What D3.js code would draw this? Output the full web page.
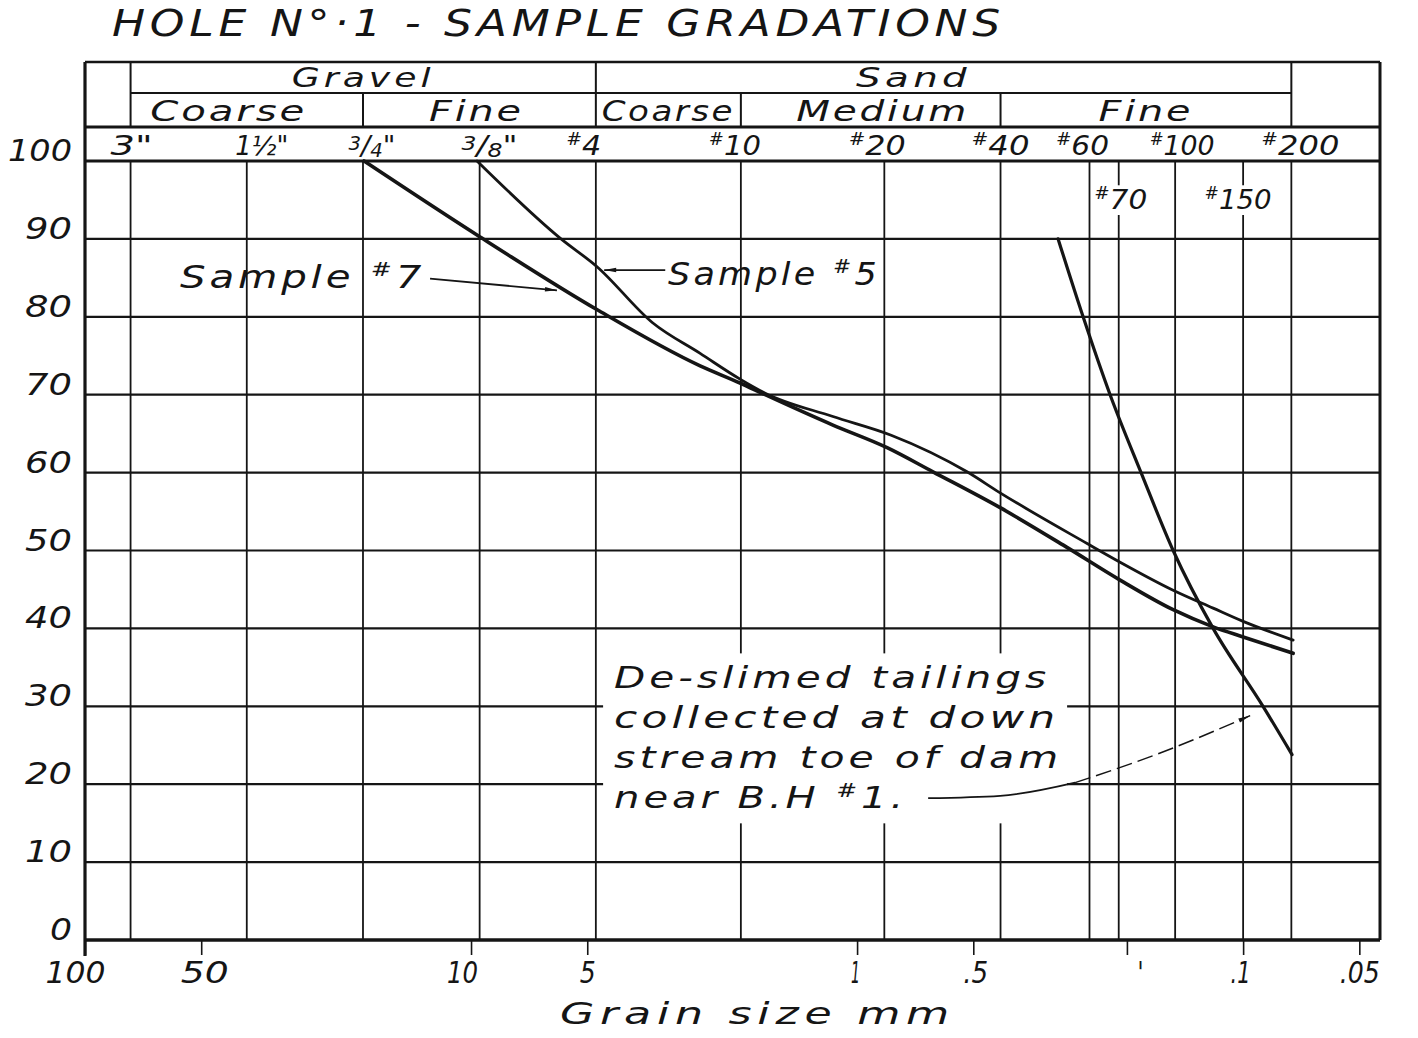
<!DOCTYPE html>
<html><head><meta charset="utf-8">
<script src="https://cdn.jsdelivr.net/npm/d3@7/dist/d3.min.js"></script>
<style>
html,body{margin:0;padding:0;background:#fff;}
svg{display:block;}
text{font-family:"DejaVu Sans",sans-serif;font-style:italic;fill:#151515;}
</style></head><body>
<svg id="chart" width="1418" height="1038"></svg>
<script>
// ---------------- data ----------------
const title = "HOLE N°·1 - SAMPLE GRADATIONS";
const xTitle = "Grain size mm";
const yTickValues = [0,10,20,30,40,50,60,70,80,90,100];
const xTickValues = [100,50,10,5,1,0.5,0.2,0.1,0.05];
const xTickLabels = ["100","50","10","5","1",".5","'",".1",".05"];

const sieveNames = ['3"','1½"','3/4"','3/8"','#4','#10','#20','#40','#60','#70','#100','#150','#200'];
const sieveSizes = [76.2,38.1,19.05,9.5,4.75,2.0,0.85,0.425,0.25,0.21,0.15,0.1,0.075];

const soilGroups = ["Gravel","Sand"];
const soilGroupBounds = [[76.2,4.75],[4.75,0.075]];
const soilClasses = ["Coarse","Fine","Coarse","Medium","Fine"];
const soilClassBounds = [[76.2,19.05],[19.05,4.75],[4.75,2.0],[2.0,0.425],[0.425,0.075]];

const sample5Size = [9.65,5.88,4.71,3.38,2.55,2.01,1.73,1.155,0.816,0.519,0.426,0.2536,0.2083,0.1518,0.1196,0.1,0.0742];
const sample5Pass = [100,90.1,86.4,79.2,75.3,72.0,70.2,67.2,64.8,60.1,57.4,50.9,48.5,44.9,42.6,40.9,38.5];

const sample7Size = [18.93,9.65,4.71,2.55,2.01,1.73,1.155,0.836,0.636,0.426,0.286,0.2083,0.1518,0.1196,0.1,0.0742];
const sample7Pass = [100,90.5,80.9,73.7,71.5,70.0,66.1,63.2,60.1,55.5,50.4,46.2,42.4,40.2,38.9,36.8];

const tailingsSize = [0.3015,0.2597,0.2211,0.1838,0.1518,0.1196,0.0888,0.0747];
const tailingsPass = [90,80,70,60,50,40,30,23.8];

const noteLines = ["De-slimed tailings","collected at down","stream toe of dam","near B.H #1."];

// ---------------- layout ----------------
const L = 85, R = 1380, T = 62, B = 940;
const ink = "#151515";
const svg = d3.select("#chart");
svg.append("rect").attr("width",1418).attr("height",1038).attr("fill","#fff");

const x = d3.scaleLog().domain([100, 0.0442]).range([L, R]);
const y = d3.scaleLinear().domain([0, 100]).range([B, 161]);
const rowY = [T, 93, 127, y(100)];

const defs = svg.append("defs");
defs.append("marker").attr("id","arr").attr("viewBox","0 0 12 6")
  .attr("refX",12).attr("refY",3).attr("markerWidth",14).attr("markerHeight",6)
  .attr("markerUnits","userSpaceOnUse").attr("orient","auto")
  .append("path").attr("d","M0,0.8 L12,3 L0,5.2 Z").attr("fill",ink);

function line(g, x1,y1,x2,y2,w){
  return g.append("line").attr("x1",x1).attr("y1",y1).attr("x2",x2).attr("y2",y2)
    .attr("stroke",ink).attr("stroke-width",w);
}
function fit(t, w){
  return t.attr("textLength", w).attr("lengthAdjust","spacingAndGlyphs");
}
function rich(t, str, size){
  const parts = str.split("#");
  if (parts[0]) t.append("tspan").text(parts[0]);
  for (let i=1;i<parts.length;i++){
    t.append("tspan").attr("font-size",size*0.62).attr("dy",-size*0.36).text("#");
    t.append("tspan").attr("dy",size*0.36).text(parts[i]);
  }
  return t;
}
function fracText(t, str, size){
  const m = str.match(/^(\d)\/(\d)(.*)$/);
  t.append("tspan").attr("font-size",size*0.72).attr("dy",-size*0.2).text(m[1]);
  t.append("tspan").attr("dy",size*0.2).text("/");
  t.append("tspan").attr("font-size",size*0.72).attr("dy",size*0.08).text(m[2]);
  t.append("tspan").attr("dy",-size*0.08).text(m[3]);
  return t;
}

// ---------------- grid ----------------
const grid = svg.append("g");
yTickValues.forEach(v=>{
  line(grid, L, y(v), R, y(v), v===0 ? 3.5 : (v===100 ? 3 : 2.2));
});
sieveSizes.forEach(s=>{
  line(grid, x(s), y(100), x(s), y(0), 1.8);
});

// ---------------- header ----------------
const hdr = svg.append("g");
line(hdr, L, T, R, T, 2.5);
line(hdr, x(76.2), rowY[1], x(0.075), rowY[1], 2.2);
line(hdr, L, rowY[2], R, rowY[2], 3);
[76.2, 4.75, 0.075].forEach(s=> line(hdr, x(s), T, x(s), rowY[2], 2));
[19.05, 2.0, 0.425].forEach(s=> line(hdr, x(s), rowY[1], x(s), rowY[2], 2));

const groupNudge = [0,-30];
const groupWidth = [143,115];
soilGroups.forEach((name,i)=>{
  const cx = (x(soilGroupBounds[i][0]) + x(soilGroupBounds[i][1]))/2 + groupNudge[i];
  fit(hdr.append("text").attr("x",cx - groupWidth[i]/2).attr("y",87)
    .attr("font-size",27).attr("letter-spacing",3), groupWidth[i]).text(name);
});
const classNudge = [-18,-3,0,12,0];
const classWidth = [157,95,133,173,95];
soilClasses.forEach((name,i)=>{
  const cx = (x(soilClassBounds[i][0]) + x(soilClassBounds[i][1]))/2 + classNudge[i];
  fit(hdr.append("text").attr("x",cx - classWidth[i]/2).attr("y",121)
    .attr("font-size",28).attr("letter-spacing",2), classWidth[i]).text(name);
});

const sieveNudge = [1,15,9,10,-12,-6,-7,0,-7,2,7,-5,9];
const sieveLabelW = [42,53,47,56,35,52,57,58,53,53,65,67,78];
const inRow = n => n !== "#70" && n !== "#150";
sieveNames.forEach((name,i)=>{
  const size = 27;
  const cx = x(sieveSizes[i]) + sieveNudge[i];
  const yy = inRow(name) ? 155 : y(100) + 48;
  const t = hdr.append("text").attr("x",cx - sieveLabelW[i]/2).attr("y",yy)
    .attr("font-size",size);
  if (name.includes("/")) fracText(t, name, size);
  else rich(t, name, size);
  fit(t, sieveLabelW[i]);
  if (!inRow(name)) {
    const bb = t.node().getBBox();
    hdr.insert("rect", function(){ return t.node(); })
      .attr("x",bb.x-2).attr("y",bb.y+2).attr("width",bb.width+4).attr("height",bb.height-2)
      .attr("fill","#fff");
  }
});

// ---------------- axes ----------------
const ax = svg.append("g");
line(ax, L, T, L, B+16, 3.2);
line(ax, R, T, R, B, 3);
yTickValues.forEach(v=>{
  const s = String(v);
  const w = s.length===1 ? 22 : (s.length===2 ? 47 : 64);
  fit(ax.append("text").attr("x",72 - w).attr("y",y(v))
    .attr("font-size",30), w).text(s);
});
const xTickLabelW = [60,48,31,16,9,25,6,20,40];
const xTickNudge = [-10,3,-9,0,-2,2,13,-3,0];
const xAxis = d3.axisBottom(x).tickValues(xTickValues)
  .tickFormat((d,i)=>xTickLabels[i]).tickSize(15).tickSizeOuter(0).tickPadding(4);
const xg = svg.append("g").attr("transform",`translate(0,${B})`).call(xAxis);
xg.select(".domain").remove();
xg.selectAll(".tick line").attr("stroke",ink).attr("stroke-width",1.6);
xg.selectAll(".tick text").attr("font-size",31).attr("font-family","DejaVu Sans")
  .attr("font-style","italic").attr("fill",ink).attr("dy","0.76em")
  .attr("dx",(d,i)=>xTickNudge[i])
  .attr("textLength",(d,i)=>xTickLabelW[i]).attr("lengthAdjust","spacingAndGlyphs");
fit(svg.append("text").attr("x",560).attr("y",1024).attr("font-size",31)
  .attr("letter-spacing",4), 395).text(xTitle);

// title
fit(svg.append("text").attr("x",112).attr("y",36).attr("font-size",37)
  .attr("letter-spacing",4), 893).text(title);

// ---------------- annotation block (masks grid) ----------------
const note = svg.append("g");
const noteX = x(4.26);
const noteBase = [32.3, 27.2, 22.1, 16.9];
const noteW = [436, 445, 448, 293];
noteLines.forEach((s,i)=>{
  const t = note.append("text").attr("x",noteX).attr("y",y(noteBase[i]))
    .attr("font-size",31).attr("letter-spacing",3);
  rich(t, s, 31);
  fit(t, noteW[i]);
});
{
  const bb = note.node().getBBox();
  note.insert("rect", ":first-child").attr("x",bb.x-11).attr("y",bb.y-6)
    .attr("width",bb.width+16).attr("height",bb.height+14).attr("fill","#fff");
}

// ---------------- curves ----------------
const lineGen = d3.line().x(d=>x(d[0])).y(d=>y(d[1])).curve(d3.curveMonotoneX);
const curves = svg.append("g").attr("fill","none").attr("stroke",ink)
  .attr("stroke-linecap","round").attr("stroke-linejoin","round");
curves.append("path").attr("d", lineGen(d3.zip(sample5Size, sample5Pass))).attr("stroke-width",2.8);
curves.append("path").attr("d", lineGen(d3.zip(sample7Size, sample7Pass))).attr("stroke-width",3.6);
curves.append("path").attr("d", lineGen(d3.zip(tailingsSize, tailingsPass))).attr("stroke-width",3.2);

// ---------------- labels & leaders ----------------
const lab = svg.append("g");
fit(rich(lab.append("text").attr("x",x(56.7)).attr("y",y(83.7)).attr("font-size",32)
  .attr("letter-spacing",3), "Sample #7", 32), 245);
fit(rich(lab.append("text").attr("x",x(3.09)).attr("y",y(84.1)).attr("font-size",32)
  .attr("letter-spacing",3), "Sample #5", 32), 212);

lab.append("line").attr("x1",x(12.77)).attr("y1",y(84.9)).attr("x2",x(5.99)).attr("y2",y(83.4))
  .attr("stroke",ink).attr("stroke-width",1.8).attr("marker-end","url(#arr)");
lab.append("line").attr("x1",x(3.14)).attr("y1",y(86.0)).attr("x2",x(4.52)).attr("y2",y(86.0))
  .attr("stroke",ink).attr("stroke-width",1.8).attr("marker-end","url(#arr)");

const leadSolid = [[0.6545,18.2],[0.426,18.5],[0.2724,20.2]];
const leadDash = [[0.2724,20.2],[0.164,24.0],[0.0959,28.8]];
const leadGen = d3.line().x(d=>x(d[0])).y(d=>y(d[1])).curve(d3.curveMonotoneX);
lab.append("path").attr("d",leadGen(leadSolid)).attr("fill","none").attr("stroke",ink).attr("stroke-width",1.8);
lab.append("path").attr("d",leadGen(leadDash)).attr("fill","none").attr("stroke",ink)
  .attr("stroke-width",1.5).attr("stroke-dasharray","16,6").attr("marker-end","url(#arr)");
</script>
</body></html>
